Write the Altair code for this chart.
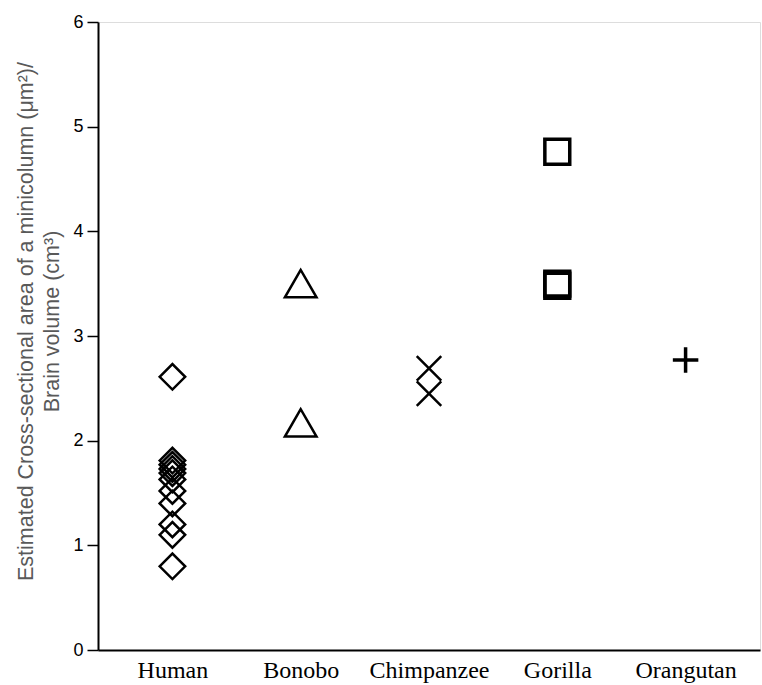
import altair as alt
import pandas as pd

categories = ["Human", "Bonobo", "Chimpanzee", "Gorilla", "Orangutan"]
human = [2.61, 1.81, 1.77, 1.73, 1.69, 1.63, 1.52, 1.40, 1.20, 1.10, 0.80]
bonobo = [3.50, 2.17]
chimpanzee = [2.69, 2.45]
gorilla = [4.76, 3.50, 3.48]
orangutan = [2.77]
y_ticks = [0, 1, 2, 3, 4, 5, 6]

def frame(name, vals):
    return pd.DataFrame({"species": [name] * len(vals), "value": vals})

x_enc = alt.X("species:N", sort=categories,
              scale=alt.Scale(type="point", domain=categories, padding=0.58),
              axis=alt.Axis(title=None, ticks=False, labelFont="Liberation Serif",
                            labelFontSize=24, labelColor="#000", labelPadding=8,
                            domainColor="#000", domainWidth=2, labelAngle=0))
y_enc = alt.Y("value:Q", scale=alt.Scale(domain=[0, 6], nice=False, zero=True),
              axis=alt.Axis(values=y_ticks, format="d", grid=False,
                            title=["Estimated Cross-sectional area of a minicolumn (μm²)/",
                                   "Brain volume (cm³)"],
                            titleFont="Liberation Sans", titleFontSize=21.5,
                            titleFontWeight="normal", titleColor="#595959",
                            titleAngle=-90, titleX=-72, titleY=299,
                            titleAlign="center", titleBaseline="middle",
                            titleLineHeight=26,
                            labelFont="Liberation Sans", labelFontSize=18,
                            labelColor="#000", labelPadding=4,
                            tickSize=11, tickWidth=1.5, tickColor="#000",
                            domainColor="#000", domainWidth=2))

def layer(df, shape, size, sw):
    return alt.Chart(df).mark_point(shape=shape, size=size, filled=False,
                                    color="#000", strokeWidth=sw, opacity=1).encode(
        x=x_enc, y=y_enc)

chart = alt.layer(
    layer(frame("Human", human), "diamond", 650, 2.5),
    layer(frame("Bonobo", bonobo), "triangle-up", 1000, 2.5),
    layer(frame("Chimpanzee", chimpanzee), "M-1,-1L1,1M-1,1L1,-1", 600, 2.5),
    layer(frame("Gorilla", gorilla), "square", 620, 3.5),
    layer(frame("Orangutan", orangutan), "M-1,0L1,0M0,-1L0,1", 650, 3.5),
).properties(
    width=662, height=628,
    autosize=alt.AutoSizeParams(type="none"),
    padding={"left": 98, "top": 22, "right": 2, "bottom": 35},
).configure_view(stroke=None).configure(background="#ffffff")

chart.save("out.html", embed_options={"renderer": "svg", "actions": False})
